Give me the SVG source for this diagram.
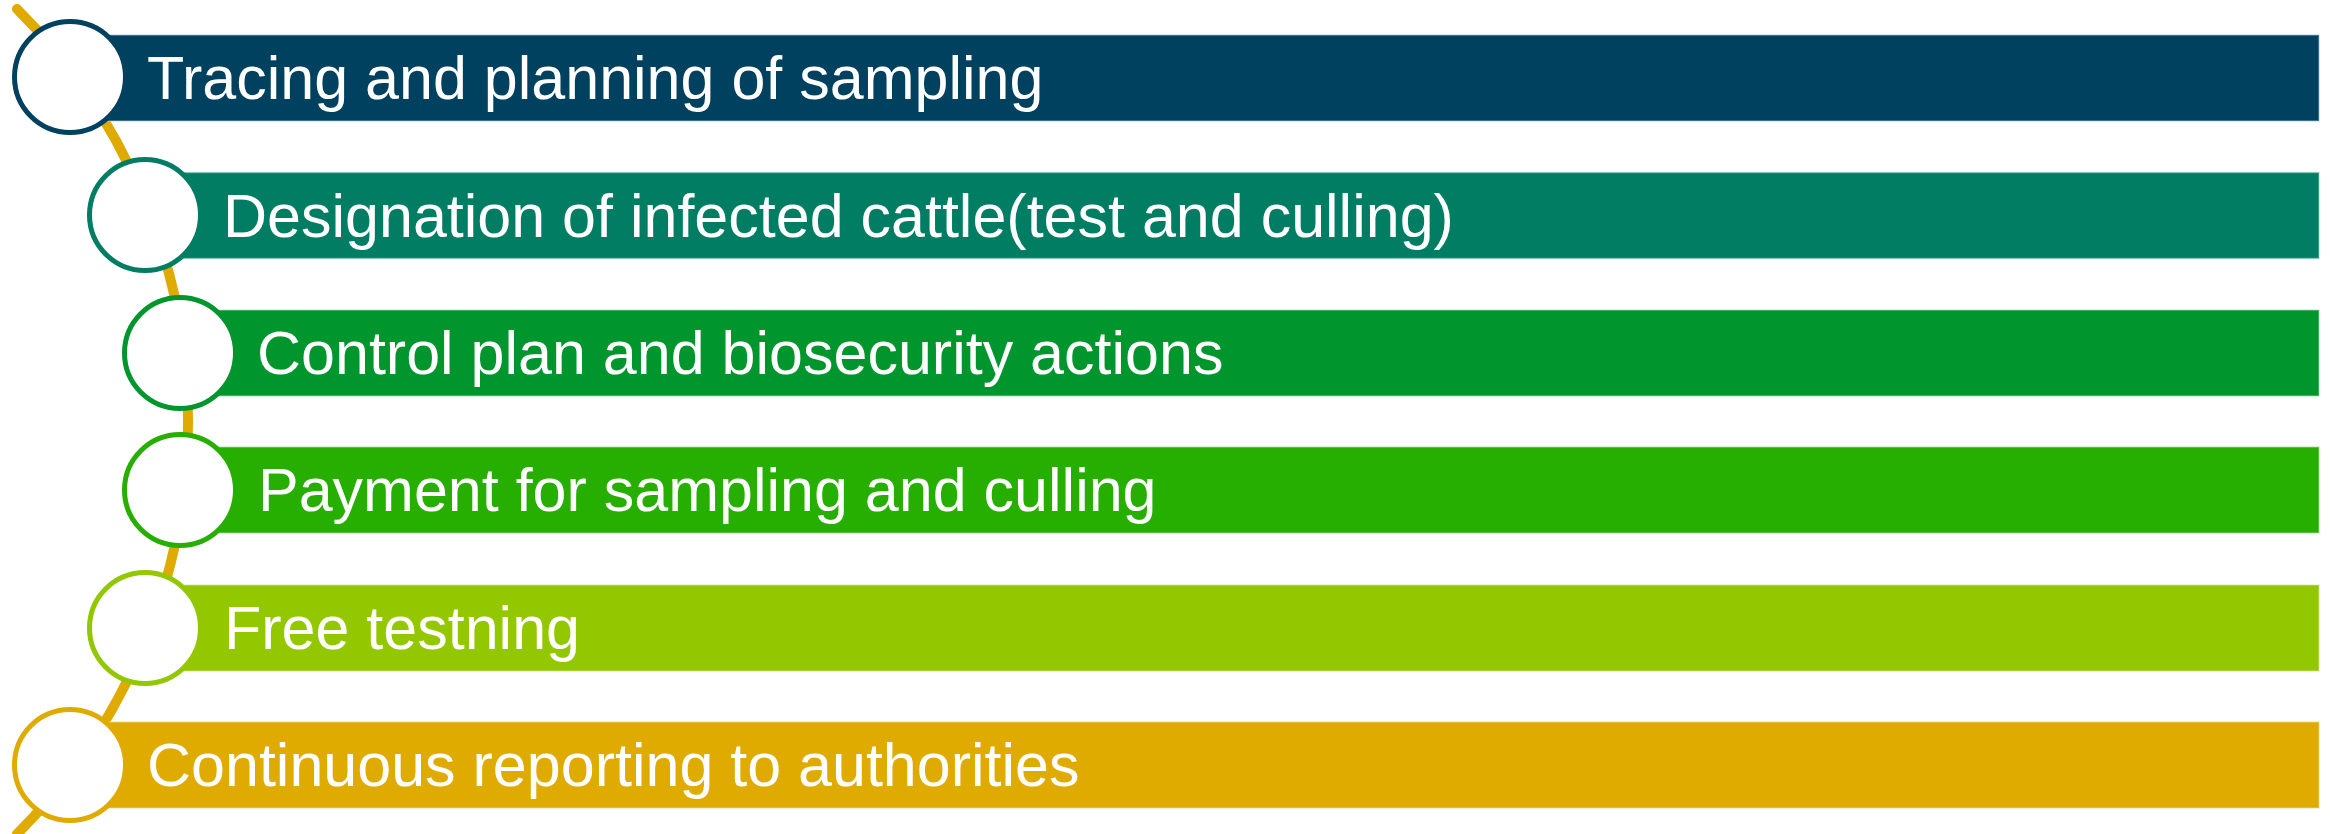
<svg xmlns="http://www.w3.org/2000/svg" width="2330" height="834" viewBox="0 0 2330 834">
<style>
.bar{stroke-width:1.5;stroke-opacity:0.5}
.ring{fill:#fff;stroke-width:5}
.lbl{font-family:"Liberation Sans",Arial,sans-serif;font-size:61px;fill:#fff}
</style>
<rect width="2330" height="834" fill="#fff"/>
<g id="connectors">
<path d="M 17 9 A 583 583 0 0 1 17 834" fill="none" stroke="#E0AB00" stroke-width="10" stroke-linecap="round"/>
</g>
<g id="node1">
<rect class="bar" x="70" y="35" width="2249" height="86" fill="#00415F" stroke="#9fc3d6"/>
<circle class="ring" cx="70" cy="77" r="55.5" stroke="#00415F"/>
<text class="lbl" x="147" y="99">Tracing and planning of sampling</text>
</g>
<g id="node2">
<rect class="bar" x="145" y="172.5" width="2174" height="86" fill="#007D62" stroke="#8fd0bf"/>
<circle class="ring" cx="145" cy="215" r="55.5" stroke="#007D62"/>
<text class="lbl" x="223" y="236.5">Designation of infected cattle(test and culling)</text>
</g>
<g id="node3">
<rect class="bar" x="180" y="310" width="2139" height="86" fill="#00952D" stroke="#9fd9ae"/>
<circle class="ring" cx="180" cy="353" r="55.5" stroke="#00952D"/>
<text class="lbl" x="257" y="374">Control plan and biosecurity actions</text>
</g>
<g id="node4">
<rect class="bar" x="180" y="447" width="2139" height="86" fill="#26AE00" stroke="#a8dc99"/>
<circle class="ring" cx="180" cy="490" r="55.5" stroke="#26AE00"/>
<text class="lbl" x="258" y="511">Payment for sampling and culling</text>
</g>
<g id="node5">
<rect class="bar" x="145" y="585" width="2174" height="86" fill="#93C700" stroke="#cfe699"/>
<circle class="ring" cx="145" cy="628" r="55.5" stroke="#93C700"/>
<text class="lbl" x="224" y="649">Free testning</text>
</g>
<g id="node6">
<rect class="bar" x="70" y="722" width="2249" height="86" fill="#E0AB00" stroke="#f0d580"/>
<circle class="ring" cx="70" cy="765" r="55.5" stroke="#E0AB00"/>
<text class="lbl" x="147" y="786">Continuous reporting to authorities</text>
</g>
</svg>
